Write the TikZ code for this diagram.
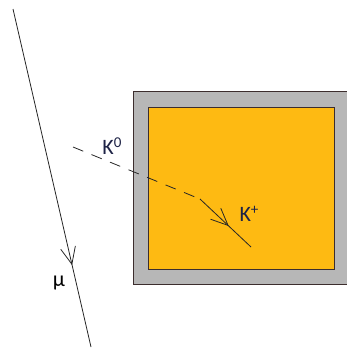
\documentclass[tikz,border=0pt]{standalone}
\usepackage{fontspec}
\setmainfont{Carlito}
\usetikzlibrary{arrows.meta,decorations.markings}
\definecolor{boxgray}{RGB}{183,183,183}
\definecolor{boxorange}{RGB}{254,186,18}
\definecolor{edgec}{RGB}{60,45,45}
\definecolor{labc}{RGB}{30,35,70}
\newcommand{\bigsup}[1]{\raisebox{0.32em}{\fontsize{15}{15}\selectfont #1}}
\tikzset{
  track/.style={line width=0.8pt, draw=black!85},
  midarrow/.style={postaction={decorate}, decoration={markings,
     mark=at position #1 with {\draw[line width=0.8pt] (-17pt,7.5pt) -- (0,0) -- (-17pt,-7.5pt);}}},
  lab/.style={text=labc, font=\fontsize{22}{22}\selectfont, inner sep=0pt}
}
\begin{document}
\begin{tikzpicture}[x=1pt,y=-1pt]
\useasboundingbox (0,0) rectangle (347,354);
% detector
\draw[edgec, line width=0.8pt, fill=boxgray] (133,91) rectangle (350,284);
\draw[edgec, line width=0.8pt, fill=boxorange] (148,107) rectangle (334,269);
% muon
\coordinate (mu1) at (13,9);
\coordinate (mu2) at (91,347);
\draw[track, midarrow=0.755] (mu1) -- (mu2);
\node[lab, text=black] (mulab) at (59,283) {μ};
% K0
\coordinate (k0a) at (73,147);
\coordinate (k0b) at (200,199);
\coordinate (kpend) at (251,247);
\draw[track, dash pattern=on 11pt off 9pt] (k0a) -- (k0b);
\draw[track, midarrow=0.55] (k0b) -- (kpend);
\node[lab] (k0lab) at (112,146) {K\bigsup{0}};
\node[lab] (kplab) at (249,214) {K\bigsup{+}};
\end{tikzpicture}
\end{document}
